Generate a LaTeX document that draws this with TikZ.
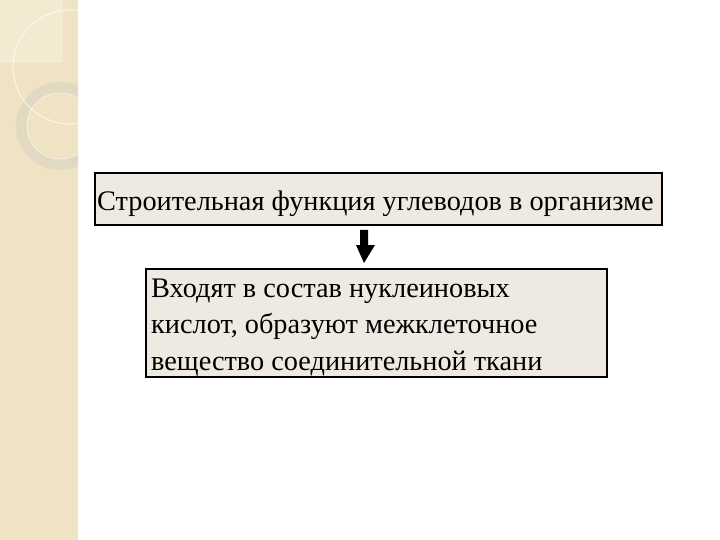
\documentclass[tikz,border=0pt]{standalone}
\usepackage{fontspec}
\setmainfont{Liberation Serif}
\begin{document}
\begin{tikzpicture}[x=1pt,y=-1pt,
  boxstyle/.style={draw=black, line width=1.8pt, fill=boxfill, inner sep=0pt, anchor=north west},
  txt/.style={font=\fontsize{28.3}{36}\selectfont, anchor=base west, inner sep=0pt}]
\definecolor{stripe}{HTML}{EFE3C4}
\definecolor{stripelight}{HTML}{F3EAD2}
\definecolor{ringcol}{HTML}{E2D9C2}
\definecolor{boxfill}{HTML}{EEEAE1}
\useasboundingbox (0,0) rectangle (720,540);
\fill[white] (0,0) rectangle (720,540);
% left decorative stripe
\fill[stripe] (0,0) rectangle (78,540);
\begin{scope}
\clip (0,0) rectangle (78,540);
\fill[stripelight] (0,0) rectangle (63,63);
\draw[ringcol, line width=11pt] (60,126) circle (38.5);
\draw[white, opacity=0.5, line width=1pt] (60,126) circle (33);
\draw[white, opacity=0.6, line width=1.2pt] (70,67) circle (57);
\end{scope}
% boxes
\node[boxstyle, minimum width=567, minimum height=52] (top) at (94,172) {};
\node[txt] (toptext) at (97,211) {Строительная функция углеводов в организме};
\node[boxstyle, minimum width=461, minimum height=108] (bot) at (145,268) {};
\node[txt] (l1) at (151,297) {Входят в состав нуклеиновых};
\node[txt] (l2) at (151,333) {кислот, образуют межклеточное};
\node[txt] (l3) at (151,370) {вещество соединительной ткани};
% arrow
\fill[black] (360,230) -- (368,230) -- (368,245) -- (375,245) -- (364,263) -- (356,245) -- (360,245) -- cycle;
\end{tikzpicture}
\end{document}
